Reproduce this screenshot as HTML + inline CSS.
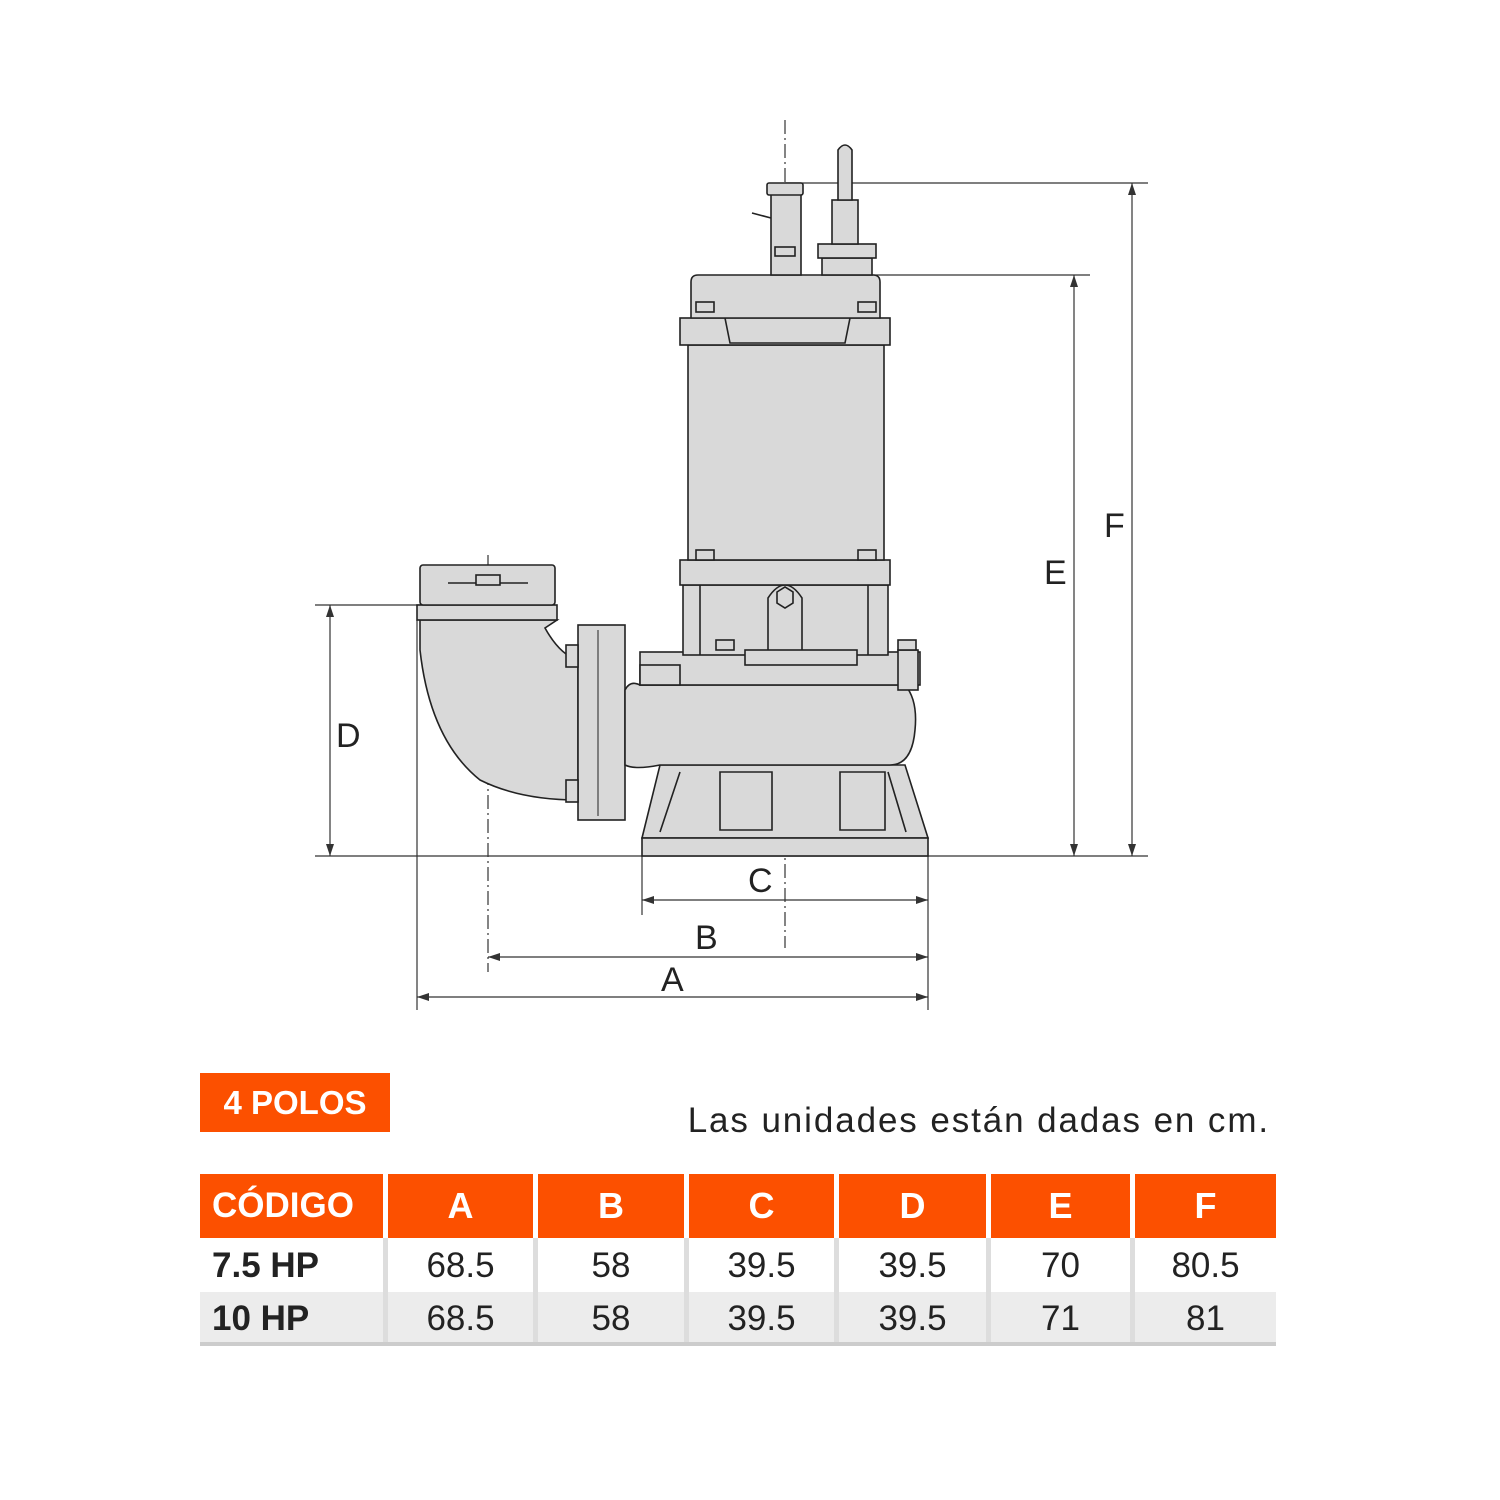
<!DOCTYPE html>
<html><head><meta charset="utf-8"><style>
body{margin:0;background:#fff;width:1500px;height:1500px;position:relative;overflow:hidden;font-family:"Liberation Sans",sans-serif}
svg{position:absolute;left:0;top:0}
.badge{position:absolute;left:200px;top:1073px;width:190px;height:59px;background:#fc5000;color:#fff;font-weight:bold;font-size:33px;line-height:59px;text-align:center}
.note{position:absolute;right:230px;top:1101px;font-size:35px;letter-spacing:1.9px;color:#222}
.c{position:absolute;text-align:center;font-size:35px;color:#222}
.h{background:#fc5000;color:#fff;font-weight:bold;font-size:36px;line-height:64px;top:1174px;height:64px}
.r1{top:1238px;height:53px;line-height:56px;background:#fff}
.r2{top:1292px;height:50px;line-height:54px;background:#ececec}
.lbl{font-weight:bold;text-align:left;padding-left:12px;box-sizing:border-box}
</style></head><body>
<svg width="1500" height="1500" viewBox="0 0 1500 1500" fill="#d9d9d9" stroke="#222" stroke-width="1.6">
<g fill="none" stroke="#333" stroke-width="1.2">
<line x1="785" y1="183" x2="1148" y2="183"/><line x1="872" y1="275" x2="1090" y2="275"/>
<line x1="315" y1="856" x2="1148" y2="856"/><line x1="315" y1="605" x2="420" y2="605"/>
<line x1="1132" y1="183" x2="1132" y2="856"/><line x1="1074" y1="275" x2="1074" y2="856"/>
<line x1="330" y1="605" x2="330" y2="856"/>
<line x1="642" y1="856" x2="642" y2="915"/><line x1="928" y1="856" x2="928" y2="1010"/>
<line x1="417" y1="620" x2="417" y2="1010"/>
<line x1="642" y1="900" x2="928" y2="900"/><line x1="488" y1="957" x2="928" y2="957"/><line x1="417" y1="997" x2="928" y2="997"/>
<line x1="785" y1="120" x2="785" y2="948" stroke-dasharray="14,4,2,4"/>
<line x1="488" y1="555" x2="488" y2="972" stroke-dasharray="14,4,2,4"/>
</g>
<g fill="#333" stroke="none">
<path d="M1132 183l-4 12h8z M1132 856l-4-12h8z M1074 275l-4 12h8z M1074 856l-4-12h8z M330 605l-4 12h8z M330 856l-4-12h8z"/>
<path d="M642 900l12-4v8z M928 900l-12-4v8z M488 957l12-4v8z M928 957l-12-4v8z M417 997l12-4v8z M928 997l-12-4v8z"/>
</g>
<g fill="#222" stroke="none" font-family="Liberation Sans" font-size="34">
<text x="1104" y="537">F</text><text x="1044" y="584">E</text><text x="336" y="747">D</text>
<text x="748" y="892">C</text><text x="695" y="949">B</text><text x="661" y="991">A</text>
</g>
<path d="M660 765 L905 765 L928 838 L642 838 Z"/>
<rect x="642" y="838" width="286" height="18"/>
<g fill="none"><path d="M720 772h52v58h-52z M840 772h45v58h-45z M680 772l-20 60 M888 772l18 60"/></g>
<path d="M420 620 L557 620 L545 628 Q560 655 578 660 L578 800 Q520 800 480 780 Q430 740 420 650 Z"/>
<rect x="578" y="625" width="47" height="195"/>
<line x1="598" y1="630" x2="598" y2="816" stroke-width="1"/>
<rect x="566" y="645" width="12" height="22"/><rect x="566" y="780" width="12" height="22"/>
<path d="M625 690 Q630 680 640 685 L905 685 Q918 700 915 730 Q912 765 890 765 L660 765 Q635 770 625 765 Z"/>
<rect x="417" y="605" width="140" height="15"/>
<rect x="420" y="565" width="135" height="40" rx="3"/>
<line x1="448" y1="583" x2="528" y2="583"/><rect x="476" y="575" width="24" height="10"/>
<rect x="640" y="652" width="280" height="33"/>
<rect x="640" y="665" width="40" height="20"/><rect x="898" y="650" width="20" height="40"/>
<rect x="683" y="585" width="205" height="70"/>
<line x1="700" y1="585" x2="700" y2="655"/><line x1="868" y1="585" x2="868" y2="655"/>
<path d="M768 655 L768 598 Q785 572 802 598 L802 655 Z"/>
<path d="M777 592l8-5 8 5v11l-8 5-8-5z" fill="none"/>
<rect x="745" y="650" width="112" height="15"/>
<rect x="680" y="560" width="210" height="25"/>
<rect x="688" y="345" width="196" height="215"/>
<rect x="680" y="318" width="210" height="27"/>
<path d="M725 318 L850 318 L845 343 L730 343 Z"/>
<path d="M691 318 L691 282 Q691 275 698 275 L873 275 Q880 275 880 282 L880 318 Z"/>
<rect x="696" y="302" width="18" height="10"/><rect x="858" y="302" width="18" height="10"/>
<rect x="696" y="550" width="18" height="10"/><rect x="858" y="550" width="18" height="10"/>
<rect x="716" y="640" width="18" height="10"/><rect x="898" y="640" width="18" height="10"/>
<rect x="771" y="190" width="30" height="85"/>
<rect x="767" y="183" width="36" height="12" rx="2"/>
<rect x="775" y="247" width="20" height="9"/>
<line x1="752" y1="213" x2="771" y2="218"/>
<rect x="822" y="258" width="50" height="17"/><rect x="818" y="244" width="58" height="14"/>
<rect x="832" y="200" width="26" height="44"/>
<path d="M838 200 L838 150 Q845 140 852 150 L852 200 Z"/>
</svg>
<div class="badge">4 POLOS</div>
<div class="note">Las unidades están dadas en cm.</div>
<div style="position:absolute;left:200px;top:1342px;width:1076px;height:4px;background:#ccc"></div>
<div class="c h lbl" style="left:200px;width:183px;font-size:35px;padding-left:12px">CÓDIGO</div>
<div class="c h" style="left:388px;width:145px">A</div>
<div class="c h" style="left:538px;width:146px">B</div>
<div class="c h" style="left:689px;width:145px">C</div>
<div class="c h" style="left:839px;width:147px">D</div>
<div class="c h" style="left:991px;width:139px">E</div>
<div class="c h" style="left:1135px;width:141px">F</div>
<div class="c r1 lbl" style="left:200px;width:183px">7.5 HP</div>
<div class="c r1" style="left:388px;width:145px">68.5</div>
<div class="c r1" style="left:538px;width:146px">58</div>
<div class="c r1" style="left:689px;width:145px">39.5</div>
<div class="c r1" style="left:839px;width:147px">39.5</div>
<div class="c r1" style="left:991px;width:139px">70</div>
<div class="c r1" style="left:1135px;width:141px">80.5</div>
<div class="c r2 lbl" style="left:200px;width:183px">10 HP</div>
<div class="c r2" style="left:388px;width:145px">68.5</div>
<div class="c r2" style="left:538px;width:146px">58</div>
<div class="c r2" style="left:689px;width:145px">39.5</div>
<div class="c r2" style="left:839px;width:147px">39.5</div>
<div class="c r2" style="left:991px;width:139px">71</div>
<div class="c r2" style="left:1135px;width:141px">81</div>
<div style="position:absolute;top:1238px;height:104px;left:383px;width:5px;background:#ddd"></div>
<div style="position:absolute;top:1238px;height:104px;left:533px;width:5px;background:#ddd"></div>
<div style="position:absolute;top:1238px;height:104px;left:684px;width:5px;background:#ddd"></div>
<div style="position:absolute;top:1238px;height:104px;left:834px;width:5px;background:#ddd"></div>
<div style="position:absolute;top:1238px;height:104px;left:986px;width:5px;background:#ddd"></div>
<div style="position:absolute;top:1238px;height:104px;left:1130px;width:5px;background:#ddd"></div>
</body></html>
